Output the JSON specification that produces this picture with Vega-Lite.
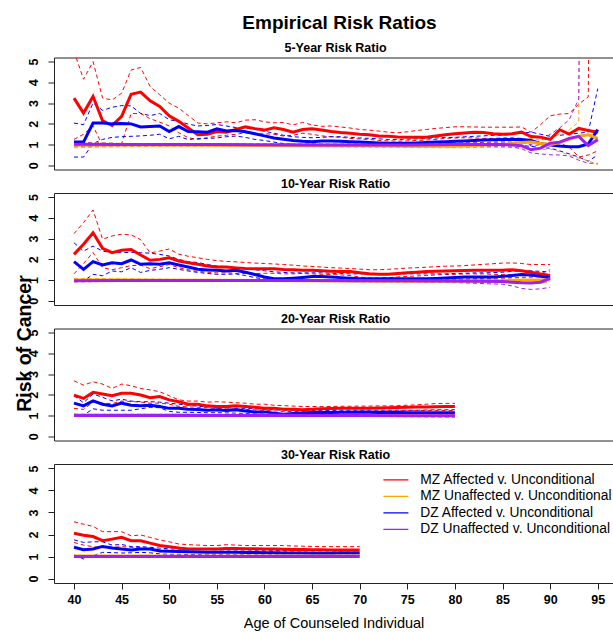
{
  "$schema": "https://vega.github.io/schema/vega-lite/v6.json",
  "padding": {"left": 13, "top": 13.5, "right": 0, "bottom": 0},
  "title": {"text": "Empirical Risk Ratios", "fontSize": 19, "fontWeight": "bold", "anchor": "middle", "frame": "group", "dx": 6, "offset": 8.5, "color": "#000"},
  "data": {"values": [
    {"p":5,"s":"MA","x":40,"e":3.24,"l":1.25,"u":5.5},
    {"p":5,"s":"MA","x":41,"e":2.52,"l":1.5,"u":4.15},
    {"p":5,"s":"MA","x":42,"e":3.32,"l":1.9,"u":5.0},
    {"p":5,"s":"MA","x":43,"e":2.15,"l":0.95,"u":3.25},
    {"p":5,"s":"MA","x":44,"e":1.92,"l":1.0,"u":3.15},
    {"p":5,"s":"MA","x":45,"e":2.36,"l":1.05,"u":3.48},
    {"p":5,"s":"MA","x":46,"e":3.43,"l":2.5,"u":4.6},
    {"p":5,"s":"MA","x":47,"e":3.53,"l":2.5,"u":4.72},
    {"p":5,"s":"MA","x":48,"e":3.11,"l":2.25,"u":3.8},
    {"p":5,"s":"MA","x":49,"e":2.84,"l":2.08,"u":3.4},
    {"p":5,"s":"MA","x":50,"e":2.39,"l":1.9,"u":3.0},
    {"p":5,"s":"MA","x":51,"e":2.12,"l":1.57,"u":2.76},
    {"p":5,"s":"MA","x":52,"e":1.8,"l":1.33,"u":2.4},
    {"p":5,"s":"MA","x":53,"e":1.48,"l":1.25,"u":2.04},
    {"p":5,"s":"MA","x":54,"e":1.5,"l":1.33,"u":2.0},
    {"p":5,"s":"MA","x":55,"e":1.63,"l":1.41,"u":2.05},
    {"p":5,"s":"MA","x":56,"e":1.6,"l":1.45,"u":2.1},
    {"p":5,"s":"MA","x":57,"e":1.73,"l":1.5,"u":2.05},
    {"p":5,"s":"MA","x":58,"e":1.86,"l":1.57,"u":2.18},
    {"p":5,"s":"MA","x":59,"e":1.77,"l":1.5,"u":2.2},
    {"p":5,"s":"MA","x":60,"e":1.7,"l":1.52,"u":2.1},
    {"p":5,"s":"MA","x":61,"e":1.81,"l":1.5,"u":2.05},
    {"p":5,"s":"MA","x":62,"e":1.73,"l":1.41,"u":2.07},
    {"p":5,"s":"MA","x":63,"e":1.6,"l":1.45,"u":1.95},
    {"p":5,"s":"MA","x":64,"e":1.73,"l":1.55,"u":2.07},
    {"p":5,"s":"MA","x":65,"e":1.76,"l":1.5,"u":1.95},
    {"p":5,"s":"MA","x":66,"e":1.7,"l":1.42,"u":1.88},
    {"p":5,"s":"MA","x":67,"e":1.63,"l":1.38,"u":1.9},
    {"p":5,"s":"MA","x":68,"e":1.58,"l":1.35,"u":1.85},
    {"p":5,"s":"MA","x":69,"e":1.55,"l":1.3,"u":1.8},
    {"p":5,"s":"MA","x":70,"e":1.5,"l":1.27,"u":1.73},
    {"p":5,"s":"MA","x":71,"e":1.47,"l":1.25,"u":1.7},
    {"p":5,"s":"MA","x":72,"e":1.42,"l":1.2,"u":1.65},
    {"p":5,"s":"MA","x":73,"e":1.4,"l":1.18,"u":1.6},
    {"p":5,"s":"MA","x":74,"e":1.37,"l":1.17,"u":1.57},
    {"p":5,"s":"MA","x":75,"e":1.36,"l":1.18,"u":1.62},
    {"p":5,"s":"MA","x":76,"e":1.36,"l":1.2,"u":1.68},
    {"p":5,"s":"MA","x":77,"e":1.36,"l":1.22,"u":1.73},
    {"p":5,"s":"MA","x":78,"e":1.42,"l":1.25,"u":1.78},
    {"p":5,"s":"MA","x":79,"e":1.48,"l":1.3,"u":1.82},
    {"p":5,"s":"MA","x":80,"e":1.52,"l":1.32,"u":1.86},
    {"p":5,"s":"MA","x":81,"e":1.56,"l":1.33,"u":1.86},
    {"p":5,"s":"MA","x":82,"e":1.6,"l":1.32,"u":1.85},
    {"p":5,"s":"MA","x":83,"e":1.58,"l":1.3,"u":1.84},
    {"p":5,"s":"MA","x":84,"e":1.52,"l":1.3,"u":1.84},
    {"p":5,"s":"MA","x":85,"e":1.5,"l":1.32,"u":1.84},
    {"p":5,"s":"MA","x":86,"e":1.52,"l":1.33,"u":1.84},
    {"p":5,"s":"MA","x":87,"e":1.6,"l":1.3,"u":1.85},
    {"p":5,"s":"MA","x":88,"e":1.39,"l":0.93,"u":1.6},
    {"p":5,"s":"MA","x":89,"e":1.36,"l":1.0,"u":1.96},
    {"p":5,"s":"MA","x":90,"e":1.25,"l":1.09,"u":2.39},
    {"p":5,"s":"MA","x":91,"e":1.72,"l":1.05,"u":2.47},
    {"p":5,"s":"MA","x":92,"e":1.51,"l":0.9,"u":2.5},
    {"p":5,"s":"MA","x":93,"e":1.78,"l":0.4,"u":2.95},
    {"p":5,"s":"MA","x":94,"e":1.68,"l":0.5,"u":3.3},
    {"p":5,"s":"MA","x":95,"e":1.6,"l":0.7,"u":60},
    {"p":5,"s":"DA","x":40,"e":1.12,"l":0.4,"u":2.04},
    {"p":5,"s":"DA","x":41,"e":1.12,"l":0.4,"u":1.96},
    {"p":5,"s":"DA","x":42,"e":2.04,"l":1.05,"u":3.0},
    {"p":5,"s":"DA","x":43,"e":2.04,"l":1.25,"u":2.65},
    {"p":5,"s":"DA","x":44,"e":2.0,"l":1.35,"u":2.8},
    {"p":5,"s":"DA","x":45,"e":2.02,"l":1.38,"u":2.88},
    {"p":5,"s":"DA","x":46,"e":2.0,"l":1.4,"u":2.87},
    {"p":5,"s":"DA","x":47,"e":1.85,"l":1.42,"u":2.5},
    {"p":5,"s":"DA","x":48,"e":1.87,"l":1.45,"u":2.4},
    {"p":5,"s":"DA","x":49,"e":1.9,"l":1.5,"u":2.5},
    {"p":5,"s":"DA","x":50,"e":1.63,"l":1.28,"u":2.2},
    {"p":5,"s":"DA","x":51,"e":1.87,"l":1.4,"u":2.12},
    {"p":5,"s":"DA","x":52,"e":1.63,"l":1.24,"u":1.99},
    {"p":5,"s":"DA","x":53,"e":1.62,"l":1.3,"u":1.9},
    {"p":5,"s":"DA","x":54,"e":1.6,"l":1.3,"u":1.92},
    {"p":5,"s":"DA","x":55,"e":1.76,"l":1.32,"u":1.97},
    {"p":5,"s":"DA","x":56,"e":1.66,"l":1.38,"u":1.9},
    {"p":5,"s":"DA","x":57,"e":1.68,"l":1.41,"u":1.82},
    {"p":5,"s":"DA","x":58,"e":1.62,"l":1.35,"u":1.8},
    {"p":5,"s":"DA","x":59,"e":1.52,"l":1.25,"u":1.73},
    {"p":5,"s":"DA","x":60,"e":1.42,"l":1.2,"u":1.65},
    {"p":5,"s":"DA","x":61,"e":1.32,"l":1.12,"u":1.55},
    {"p":5,"s":"DA","x":62,"e":1.26,"l":1.05,"u":1.45},
    {"p":5,"s":"DA","x":63,"e":1.2,"l":1.02,"u":1.38},
    {"p":5,"s":"DA","x":64,"e":1.16,"l":1.0,"u":1.35},
    {"p":5,"s":"DA","x":65,"e":1.14,"l":0.98,"u":1.33},
    {"p":5,"s":"DA","x":66,"e":1.17,"l":0.98,"u":1.35},
    {"p":5,"s":"DA","x":67,"e":1.17,"l":1.0,"u":1.38},
    {"p":5,"s":"DA","x":68,"e":1.16,"l":1.0,"u":1.38},
    {"p":5,"s":"DA","x":69,"e":1.14,"l":1.0,"u":1.35},
    {"p":5,"s":"DA","x":70,"e":1.12,"l":0.98,"u":1.32},
    {"p":5,"s":"DA","x":71,"e":1.1,"l":0.97,"u":1.3},
    {"p":5,"s":"DA","x":72,"e":1.08,"l":0.95,"u":1.28},
    {"p":5,"s":"DA","x":73,"e":1.06,"l":0.95,"u":1.25},
    {"p":5,"s":"DA","x":74,"e":1.06,"l":0.95,"u":1.25},
    {"p":5,"s":"DA","x":75,"e":1.06,"l":0.95,"u":1.26},
    {"p":5,"s":"DA","x":76,"e":1.08,"l":0.96,"u":1.28},
    {"p":5,"s":"DA","x":77,"e":1.1,"l":0.97,"u":1.3},
    {"p":5,"s":"DA","x":78,"e":1.12,"l":0.98,"u":1.32},
    {"p":5,"s":"DA","x":79,"e":1.14,"l":1.0,"u":1.34},
    {"p":5,"s":"DA","x":80,"e":1.16,"l":1.0,"u":1.35},
    {"p":5,"s":"DA","x":81,"e":1.18,"l":1.0,"u":1.38},
    {"p":5,"s":"DA","x":82,"e":1.2,"l":1.0,"u":1.4},
    {"p":5,"s":"DA","x":83,"e":1.22,"l":1.02,"u":1.42},
    {"p":5,"s":"DA","x":84,"e":1.24,"l":1.02,"u":1.45},
    {"p":5,"s":"DA","x":85,"e":1.25,"l":1.0,"u":1.45},
    {"p":5,"s":"DA","x":86,"e":1.25,"l":1.0,"u":1.5},
    {"p":5,"s":"DA","x":87,"e":1.25,"l":0.95,"u":1.55},
    {"p":5,"s":"DA","x":88,"e":1.2,"l":0.92,"u":1.6},
    {"p":5,"s":"DA","x":89,"e":1.05,"l":0.85,"u":1.5},
    {"p":5,"s":"DA","x":90,"e":0.98,"l":0.83,"u":1.4},
    {"p":5,"s":"DA","x":91,"e":0.93,"l":0.7,"u":1.45},
    {"p":5,"s":"DA","x":92,"e":0.9,"l":0.55,"u":1.5},
    {"p":5,"s":"DA","x":93,"e":0.9,"l":0.4,"u":1.55},
    {"p":5,"s":"DA","x":94,"e":1.03,"l":0.2,"u":1.6},
    {"p":5,"s":"DA","x":95,"e":1.72,"l":0.5,"u":3.7},
    {"p":5,"s":"MU","x":40,"e":0.97,"l":0.85,"u":1.12},
    {"p":5,"s":"MU","x":45,"e":0.98,"l":0.9,"u":1.06},
    {"p":5,"s":"MU","x":50,"e":0.98,"l":0.92,"u":1.04},
    {"p":5,"s":"MU","x":55,"e":0.97,"l":0.92,"u":1.02},
    {"p":5,"s":"MU","x":60,"e":0.96,"l":0.92,"u":1.0},
    {"p":5,"s":"MU","x":65,"e":0.95,"l":0.9,"u":0.99},
    {"p":5,"s":"MU","x":70,"e":0.94,"l":0.88,"u":0.99},
    {"p":5,"s":"MU","x":75,"e":0.92,"l":0.86,"u":0.98},
    {"p":5,"s":"MU","x":80,"e":0.92,"l":0.85,"u":0.99},
    {"p":5,"s":"MU","x":85,"e":1.0,"l":0.88,"u":1.15},
    {"p":5,"s":"MU","x":86,"e":1.05,"l":0.88,"u":1.2},
    {"p":5,"s":"MU","x":87,"e":1.1,"l":0.85,"u":1.25},
    {"p":5,"s":"MU","x":88,"e":1.12,"l":0.8,"u":1.3},
    {"p":5,"s":"MU","x":89,"e":1.05,"l":0.75,"u":1.2},
    {"p":5,"s":"MU","x":90,"e":1.0,"l":0.79,"u":1.3},
    {"p":5,"s":"MU","x":91,"e":1.1,"l":0.65,"u":1.5},
    {"p":5,"s":"MU","x":92,"e":1.25,"l":0.51,"u":1.7},
    {"p":5,"s":"MU","x":93,"e":1.4,"l":0.35,"u":2.1},
    {"p":5,"s":"MU","x":94,"e":1.47,"l":0.22,"u":60},
    {"p":5,"s":"MU","x":95,"e":1.3,"l":0.03,"u":60},
    {"p":5,"s":"DU","x":40,"e":1.02,"l":0.92,"u":1.1},
    {"p":5,"s":"DU","x":45,"e":1.0,"l":0.95,"u":1.05},
    {"p":5,"s":"DU","x":50,"e":1.0,"l":0.96,"u":1.04},
    {"p":5,"s":"DU","x":55,"e":1.0,"l":0.96,"u":1.03},
    {"p":5,"s":"DU","x":60,"e":0.99,"l":0.95,"u":1.03},
    {"p":5,"s":"DU","x":65,"e":0.98,"l":0.94,"u":1.03},
    {"p":5,"s":"DU","x":70,"e":0.98,"l":0.93,"u":1.02},
    {"p":5,"s":"DU","x":75,"e":0.98,"l":0.93,"u":1.03},
    {"p":5,"s":"DU","x":80,"e":1.0,"l":0.92,"u":1.08},
    {"p":5,"s":"DU","x":85,"e":1.0,"l":0.9,"u":1.12},
    {"p":5,"s":"DU","x":86,"e":0.98,"l":0.88,"u":1.12},
    {"p":5,"s":"DU","x":87,"e":0.95,"l":0.8,"u":1.1},
    {"p":5,"s":"DU","x":88,"e":0.75,"l":0.6,"u":1.0},
    {"p":5,"s":"DU","x":89,"e":0.83,"l":0.55,"u":1.2},
    {"p":5,"s":"DU","x":90,"e":1.07,"l":0.51,"u":1.5},
    {"p":5,"s":"DU","x":91,"e":1.12,"l":0.5,"u":1.8},
    {"p":5,"s":"DU","x":92,"e":1.3,"l":0.45,"u":2.2},
    {"p":5,"s":"DU","x":93,"e":1.4,"l":0.25,"u":3.2},
    {"p":5,"s":"DU","x":94,"e":0.95,"l":0.1,"u":60},
    {"p":5,"s":"DU","x":95,"e":1.24,"l":0.1,"u":60},

    {"p":10,"s":"MA","x":40,"e":2.24,"l":1.3,"u":3.24},
    {"p":10,"s":"MA","x":41,"e":2.73,"l":1.8,"u":3.77},
    {"p":10,"s":"MA","x":42,"e":3.28,"l":2.33,"u":4.38},
    {"p":10,"s":"MA","x":43,"e":2.53,"l":1.6,"u":2.97},
    {"p":10,"s":"MA","x":44,"e":2.32,"l":1.5,"u":3.13},
    {"p":10,"s":"MA","x":45,"e":2.44,"l":1.6,"u":3.21},
    {"p":10,"s":"MA","x":46,"e":2.48,"l":1.7,"u":3.18},
    {"p":10,"s":"MA","x":47,"e":2.21,"l":1.72,"u":2.95},
    {"p":10,"s":"MA","x":48,"e":1.96,"l":1.55,"u":2.31},
    {"p":10,"s":"MA","x":49,"e":2.0,"l":1.65,"u":2.4},
    {"p":10,"s":"MA","x":50,"e":2.08,"l":1.75,"u":2.5},
    {"p":10,"s":"MA","x":51,"e":1.92,"l":1.6,"u":2.25},
    {"p":10,"s":"MA","x":52,"e":1.84,"l":1.5,"u":2.15},
    {"p":10,"s":"MA","x":53,"e":1.76,"l":1.42,"u":2.08},
    {"p":10,"s":"MA","x":54,"e":1.68,"l":1.38,"u":2.0},
    {"p":10,"s":"MA","x":55,"e":1.63,"l":1.35,"u":1.94},
    {"p":10,"s":"MA","x":56,"e":1.63,"l":1.35,"u":1.9},
    {"p":10,"s":"MA","x":57,"e":1.59,"l":1.33,"u":1.88},
    {"p":10,"s":"MA","x":58,"e":1.56,"l":1.32,"u":1.85},
    {"p":10,"s":"MA","x":59,"e":1.55,"l":1.32,"u":1.82},
    {"p":10,"s":"MA","x":60,"e":1.55,"l":1.33,"u":1.8},
    {"p":10,"s":"MA","x":61,"e":1.55,"l":1.33,"u":1.78},
    {"p":10,"s":"MA","x":62,"e":1.51,"l":1.3,"u":1.75},
    {"p":10,"s":"MA","x":63,"e":1.5,"l":1.3,"u":1.72},
    {"p":10,"s":"MA","x":64,"e":1.48,"l":1.32,"u":1.68},
    {"p":10,"s":"MA","x":65,"e":1.47,"l":1.3,"u":1.66},
    {"p":10,"s":"MA","x":66,"e":1.45,"l":1.28,"u":1.63},
    {"p":10,"s":"MA","x":67,"e":1.43,"l":1.27,"u":1.6},
    {"p":10,"s":"MA","x":68,"e":1.42,"l":1.25,"u":1.58},
    {"p":10,"s":"MA","x":69,"e":1.41,"l":1.22,"u":1.56},
    {"p":10,"s":"MA","x":70,"e":1.36,"l":1.15,"u":1.53},
    {"p":10,"s":"MA","x":71,"e":1.31,"l":1.1,"u":1.5},
    {"p":10,"s":"MA","x":72,"e":1.28,"l":1.1,"u":1.5},
    {"p":10,"s":"MA","x":73,"e":1.28,"l":1.12,"u":1.52},
    {"p":10,"s":"MA","x":74,"e":1.32,"l":1.15,"u":1.55},
    {"p":10,"s":"MA","x":75,"e":1.36,"l":1.18,"u":1.58},
    {"p":10,"s":"MA","x":76,"e":1.38,"l":1.2,"u":1.6},
    {"p":10,"s":"MA","x":77,"e":1.41,"l":1.22,"u":1.62},
    {"p":10,"s":"MA","x":78,"e":1.43,"l":1.25,"u":1.65},
    {"p":10,"s":"MA","x":79,"e":1.44,"l":1.27,"u":1.67},
    {"p":10,"s":"MA","x":80,"e":1.45,"l":1.28,"u":1.68},
    {"p":10,"s":"MA","x":81,"e":1.46,"l":1.3,"u":1.7},
    {"p":10,"s":"MA","x":82,"e":1.47,"l":1.3,"u":1.73},
    {"p":10,"s":"MA","x":83,"e":1.47,"l":1.3,"u":1.76},
    {"p":10,"s":"MA","x":84,"e":1.47,"l":1.28,"u":1.79},
    {"p":10,"s":"MA","x":85,"e":1.48,"l":1.27,"u":1.82},
    {"p":10,"s":"MA","x":86,"e":1.5,"l":1.25,"u":1.83},
    {"p":10,"s":"MA","x":87,"e":1.45,"l":1.22,"u":1.8},
    {"p":10,"s":"MA","x":88,"e":1.38,"l":1.2,"u":1.75},
    {"p":10,"s":"MA","x":89,"e":1.3,"l":1.15,"u":1.75},
    {"p":10,"s":"MA","x":90,"e":1.22,"l":1.1,"u":1.75},
    {"p":10,"s":"DA","x":40,"e":1.89,"l":1.04,"u":2.8},
    {"p":10,"s":"DA","x":41,"e":1.52,"l":0.95,"u":2.4},
    {"p":10,"s":"DA","x":42,"e":1.89,"l":1.28,"u":2.64},
    {"p":10,"s":"DA","x":43,"e":1.73,"l":1.21,"u":2.4},
    {"p":10,"s":"DA","x":44,"e":1.84,"l":1.44,"u":2.32},
    {"p":10,"s":"DA","x":45,"e":1.79,"l":1.4,"u":2.32},
    {"p":10,"s":"DA","x":46,"e":1.97,"l":1.6,"u":2.34},
    {"p":10,"s":"DA","x":47,"e":1.76,"l":1.37,"u":2.32},
    {"p":10,"s":"DA","x":48,"e":1.79,"l":1.47,"u":2.3},
    {"p":10,"s":"DA","x":49,"e":1.76,"l":1.52,"u":2.24},
    {"p":10,"s":"DA","x":50,"e":1.84,"l":1.6,"u":2.16},
    {"p":10,"s":"DA","x":51,"e":1.73,"l":1.52,"u":2.0},
    {"p":10,"s":"DA","x":52,"e":1.63,"l":1.44,"u":1.89},
    {"p":10,"s":"DA","x":53,"e":1.52,"l":1.37,"u":1.85},
    {"p":10,"s":"DA","x":54,"e":1.49,"l":1.32,"u":1.75},
    {"p":10,"s":"DA","x":55,"e":1.47,"l":1.28,"u":1.68},
    {"p":10,"s":"DA","x":56,"e":1.44,"l":1.28,"u":1.65},
    {"p":10,"s":"DA","x":57,"e":1.47,"l":1.3,"u":1.6},
    {"p":10,"s":"DA","x":58,"e":1.38,"l":1.22,"u":1.55},
    {"p":10,"s":"DA","x":59,"e":1.27,"l":1.12,"u":1.5},
    {"p":10,"s":"DA","x":60,"e":1.15,"l":1.05,"u":1.45},
    {"p":10,"s":"DA","x":61,"e":1.07,"l":0.98,"u":1.4},
    {"p":10,"s":"DA","x":62,"e":1.06,"l":0.97,"u":1.37},
    {"p":10,"s":"DA","x":63,"e":1.09,"l":0.98,"u":1.35},
    {"p":10,"s":"DA","x":64,"e":1.13,"l":1.0,"u":1.35},
    {"p":10,"s":"DA","x":65,"e":1.17,"l":1.02,"u":1.35},
    {"p":10,"s":"DA","x":66,"e":1.17,"l":1.03,"u":1.35},
    {"p":10,"s":"DA","x":67,"e":1.15,"l":1.02,"u":1.33},
    {"p":10,"s":"DA","x":68,"e":1.12,"l":1.0,"u":1.32},
    {"p":10,"s":"DA","x":69,"e":1.09,"l":0.98,"u":1.3},
    {"p":10,"s":"DA","x":70,"e":1.06,"l":0.97,"u":1.3},
    {"p":10,"s":"DA","x":71,"e":1.06,"l":0.97,"u":1.3},
    {"p":10,"s":"DA","x":72,"e":1.06,"l":0.97,"u":1.3},
    {"p":10,"s":"DA","x":73,"e":1.06,"l":0.97,"u":1.3},
    {"p":10,"s":"DA","x":74,"e":1.06,"l":0.97,"u":1.3},
    {"p":10,"s":"DA","x":75,"e":1.07,"l":0.97,"u":1.3},
    {"p":10,"s":"DA","x":76,"e":1.07,"l":0.97,"u":1.3},
    {"p":10,"s":"DA","x":77,"e":1.07,"l":0.97,"u":1.3},
    {"p":10,"s":"DA","x":78,"e":1.08,"l":0.98,"u":1.3},
    {"p":10,"s":"DA","x":79,"e":1.1,"l":0.99,"u":1.3},
    {"p":10,"s":"DA","x":80,"e":1.12,"l":1.0,"u":1.32},
    {"p":10,"s":"DA","x":81,"e":1.15,"l":1.01,"u":1.33},
    {"p":10,"s":"DA","x":82,"e":1.15,"l":1.01,"u":1.35},
    {"p":10,"s":"DA","x":83,"e":1.15,"l":1.0,"u":1.35},
    {"p":10,"s":"DA","x":84,"e":1.15,"l":1.0,"u":1.36},
    {"p":10,"s":"DA","x":85,"e":1.18,"l":1.0,"u":1.38},
    {"p":10,"s":"DA","x":86,"e":1.22,"l":1.0,"u":1.42},
    {"p":10,"s":"DA","x":87,"e":1.27,"l":1.0,"u":1.45},
    {"p":10,"s":"DA","x":88,"e":1.25,"l":0.98,"u":1.45},
    {"p":10,"s":"DA","x":89,"e":1.18,"l":0.97,"u":1.42},
    {"p":10,"s":"DA","x":90,"e":1.12,"l":0.95,"u":1.4},
    {"p":10,"s":"MU","x":40,"e":1.0,"l":0.92,"u":1.08},
    {"p":10,"s":"MU","x":45,"e":1.0,"l":0.94,"u":1.06},
    {"p":10,"s":"MU","x":50,"e":0.99,"l":0.95,"u":1.04},
    {"p":10,"s":"MU","x":55,"e":0.99,"l":0.95,"u":1.03},
    {"p":10,"s":"MU","x":60,"e":0.98,"l":0.94,"u":1.02},
    {"p":10,"s":"MU","x":65,"e":0.97,"l":0.93,"u":1.01},
    {"p":10,"s":"MU","x":70,"e":0.96,"l":0.92,"u":1.0},
    {"p":10,"s":"MU","x":75,"e":0.95,"l":0.9,"u":1.0},
    {"p":10,"s":"MU","x":80,"e":0.95,"l":0.89,"u":1.02},
    {"p":10,"s":"MU","x":85,"e":0.97,"l":0.88,"u":1.08},
    {"p":10,"s":"MU","x":88,"e":1.0,"l":0.85,"u":1.12},
    {"p":10,"s":"MU","x":90,"e":1.02,"l":0.9,"u":1.2},
    {"p":10,"s":"DU","x":40,"e":0.97,"l":0.92,"u":1.02},
    {"p":10,"s":"DU","x":45,"e":0.98,"l":0.94,"u":1.02},
    {"p":10,"s":"DU","x":50,"e":0.98,"l":0.95,"u":1.01},
    {"p":10,"s":"DU","x":55,"e":0.98,"l":0.95,"u":1.01},
    {"p":10,"s":"DU","x":60,"e":0.98,"l":0.95,"u":1.01},
    {"p":10,"s":"DU","x":65,"e":0.98,"l":0.94,"u":1.01},
    {"p":10,"s":"DU","x":70,"e":0.97,"l":0.93,"u":1.01},
    {"p":10,"s":"DU","x":75,"e":0.97,"l":0.92,"u":1.02},
    {"p":10,"s":"DU","x":80,"e":0.96,"l":0.88,"u":1.05},
    {"p":10,"s":"DU","x":85,"e":0.93,"l":0.8,"u":1.1},
    {"p":10,"s":"DU","x":86,"e":0.9,"l":0.72,"u":1.12},
    {"p":10,"s":"DU","x":87,"e":0.87,"l":0.6,"u":1.13},
    {"p":10,"s":"DU","x":88,"e":0.86,"l":0.55,"u":1.15},
    {"p":10,"s":"DU","x":89,"e":0.9,"l":0.58,"u":1.3},
    {"p":10,"s":"DU","x":90,"e":1.1,"l":0.65,"u":1.5},

    {"p":20,"s":"MA","x":40,"e":1.99,"l":1.35,"u":2.68},
    {"p":20,"s":"MA","x":41,"e":1.83,"l":1.3,"u":2.47},
    {"p":20,"s":"MA","x":42,"e":2.12,"l":1.65,"u":2.63},
    {"p":20,"s":"MA","x":43,"e":2.04,"l":1.6,"u":2.52},
    {"p":20,"s":"MA","x":44,"e":1.96,"l":1.58,"u":2.31},
    {"p":20,"s":"MA","x":45,"e":2.08,"l":1.7,"u":2.52},
    {"p":20,"s":"MA","x":46,"e":2.08,"l":1.68,"u":2.44},
    {"p":20,"s":"MA","x":47,"e":1.99,"l":1.65,"u":2.31},
    {"p":20,"s":"MA","x":48,"e":1.86,"l":1.6,"u":2.24},
    {"p":20,"s":"MA","x":49,"e":1.92,"l":1.6,"u":2.15},
    {"p":20,"s":"MA","x":50,"e":1.76,"l":1.55,"u":1.96},
    {"p":20,"s":"MA","x":51,"e":1.67,"l":1.45,"u":1.76},
    {"p":20,"s":"MA","x":52,"e":1.55,"l":1.42,"u":1.7},
    {"p":20,"s":"MA","x":53,"e":1.55,"l":1.4,"u":1.7},
    {"p":20,"s":"MA","x":54,"e":1.47,"l":1.38,"u":1.65},
    {"p":20,"s":"MA","x":55,"e":1.44,"l":1.35,"u":1.67},
    {"p":20,"s":"MA","x":56,"e":1.44,"l":1.33,"u":1.65},
    {"p":20,"s":"MA","x":57,"e":1.47,"l":1.32,"u":1.62},
    {"p":20,"s":"MA","x":58,"e":1.44,"l":1.3,"u":1.6},
    {"p":20,"s":"MA","x":59,"e":1.4,"l":1.28,"u":1.55},
    {"p":20,"s":"MA","x":60,"e":1.35,"l":1.25,"u":1.55},
    {"p":20,"s":"MA","x":61,"e":1.35,"l":1.23,"u":1.5},
    {"p":20,"s":"MA","x":62,"e":1.31,"l":1.2,"u":1.48},
    {"p":20,"s":"MA","x":63,"e":1.31,"l":1.2,"u":1.46},
    {"p":20,"s":"MA","x":64,"e":1.28,"l":1.19,"u":1.44},
    {"p":20,"s":"MA","x":65,"e":1.31,"l":1.18,"u":1.44},
    {"p":20,"s":"MA","x":66,"e":1.33,"l":1.2,"u":1.44},
    {"p":20,"s":"MA","x":67,"e":1.34,"l":1.2,"u":1.44},
    {"p":20,"s":"MA","x":68,"e":1.35,"l":1.2,"u":1.45},
    {"p":20,"s":"MA","x":69,"e":1.35,"l":1.21,"u":1.45},
    {"p":20,"s":"MA","x":70,"e":1.36,"l":1.22,"u":1.46},
    {"p":20,"s":"MA","x":71,"e":1.36,"l":1.22,"u":1.46},
    {"p":20,"s":"MA","x":72,"e":1.37,"l":1.22,"u":1.47},
    {"p":20,"s":"MA","x":73,"e":1.38,"l":1.23,"u":1.47},
    {"p":20,"s":"MA","x":74,"e":1.39,"l":1.23,"u":1.48},
    {"p":20,"s":"MA","x":75,"e":1.4,"l":1.24,"u":1.5},
    {"p":20,"s":"MA","x":76,"e":1.41,"l":1.24,"u":1.52},
    {"p":20,"s":"MA","x":77,"e":1.42,"l":1.25,"u":1.55},
    {"p":20,"s":"MA","x":78,"e":1.43,"l":1.25,"u":1.58},
    {"p":20,"s":"MA","x":79,"e":1.44,"l":1.25,"u":1.59},
    {"p":20,"s":"MA","x":80,"e":1.44,"l":1.25,"u":1.59},
    {"p":20,"s":"DA","x":40,"e":1.6,"l":1.07,"u":1.96},
    {"p":20,"s":"DA","x":41,"e":1.47,"l":1.02,"u":1.62},
    {"p":20,"s":"DA","x":42,"e":1.71,"l":1.33,"u":2.04},
    {"p":20,"s":"DA","x":43,"e":1.55,"l":1.26,"u":1.88},
    {"p":20,"s":"DA","x":44,"e":1.47,"l":1.26,"u":1.71},
    {"p":20,"s":"DA","x":45,"e":1.6,"l":1.26,"u":1.79},
    {"p":20,"s":"DA","x":46,"e":1.5,"l":1.26,"u":1.7},
    {"p":20,"s":"DA","x":47,"e":1.47,"l":1.33,"u":1.67},
    {"p":20,"s":"DA","x":48,"e":1.5,"l":1.4,"u":1.67},
    {"p":20,"s":"DA","x":49,"e":1.44,"l":1.38,"u":1.65},
    {"p":20,"s":"DA","x":50,"e":1.35,"l":1.2,"u":1.6},
    {"p":20,"s":"DA","x":51,"e":1.35,"l":1.16,"u":1.55},
    {"p":20,"s":"DA","x":52,"e":1.31,"l":1.16,"u":1.5},
    {"p":20,"s":"DA","x":53,"e":1.29,"l":1.15,"u":1.45},
    {"p":20,"s":"DA","x":54,"e":1.26,"l":1.14,"u":1.42},
    {"p":20,"s":"DA","x":55,"e":1.28,"l":1.14,"u":1.4},
    {"p":20,"s":"DA","x":56,"e":1.25,"l":1.13,"u":1.38},
    {"p":20,"s":"DA","x":57,"e":1.28,"l":1.12,"u":1.36},
    {"p":20,"s":"DA","x":58,"e":1.22,"l":1.1,"u":1.35},
    {"p":20,"s":"DA","x":59,"e":1.18,"l":1.08,"u":1.33},
    {"p":20,"s":"DA","x":60,"e":1.18,"l":1.07,"u":1.3},
    {"p":20,"s":"DA","x":61,"e":1.12,"l":1.05,"u":1.28},
    {"p":20,"s":"DA","x":62,"e":1.07,"l":1.02,"u":1.27},
    {"p":20,"s":"DA","x":63,"e":1.1,"l":1.02,"u":1.26},
    {"p":20,"s":"DA","x":64,"e":1.12,"l":1.03,"u":1.25},
    {"p":20,"s":"DA","x":65,"e":1.15,"l":1.04,"u":1.25},
    {"p":20,"s":"DA","x":66,"e":1.15,"l":1.05,"u":1.25},
    {"p":20,"s":"DA","x":67,"e":1.15,"l":1.05,"u":1.25},
    {"p":20,"s":"DA","x":68,"e":1.16,"l":1.05,"u":1.26},
    {"p":20,"s":"DA","x":69,"e":1.16,"l":1.05,"u":1.26},
    {"p":20,"s":"DA","x":70,"e":1.16,"l":1.05,"u":1.26},
    {"p":20,"s":"DA","x":71,"e":1.16,"l":1.05,"u":1.26},
    {"p":20,"s":"DA","x":72,"e":1.15,"l":1.05,"u":1.26},
    {"p":20,"s":"DA","x":73,"e":1.15,"l":1.05,"u":1.26},
    {"p":20,"s":"DA","x":74,"e":1.15,"l":1.04,"u":1.26},
    {"p":20,"s":"DA","x":75,"e":1.14,"l":1.04,"u":1.26},
    {"p":20,"s":"DA","x":76,"e":1.14,"l":1.04,"u":1.26},
    {"p":20,"s":"DA","x":77,"e":1.14,"l":1.04,"u":1.27},
    {"p":20,"s":"DA","x":78,"e":1.14,"l":1.03,"u":1.28},
    {"p":20,"s":"DA","x":79,"e":1.14,"l":1.03,"u":1.28},
    {"p":20,"s":"DA","x":80,"e":1.14,"l":1.03,"u":1.28},
    {"p":20,"s":"MU","x":40,"e":1.03,"l":0.99,"u":1.07},
    {"p":20,"s":"MU","x":45,"e":1.03,"l":0.99,"u":1.07},
    {"p":20,"s":"MU","x":50,"e":1.03,"l":0.99,"u":1.07},
    {"p":20,"s":"MU","x":55,"e":1.02,"l":0.98,"u":1.06},
    {"p":20,"s":"MU","x":60,"e":1.02,"l":0.98,"u":1.06},
    {"p":20,"s":"MU","x":65,"e":1.01,"l":0.97,"u":1.05},
    {"p":20,"s":"MU","x":70,"e":1.01,"l":0.97,"u":1.05},
    {"p":20,"s":"MU","x":75,"e":1.0,"l":0.96,"u":1.05},
    {"p":20,"s":"MU","x":80,"e":1.0,"l":0.95,"u":1.06},
    {"p":20,"s":"DU","x":40,"e":1.0,"l":0.97,"u":1.03},
    {"p":20,"s":"DU","x":45,"e":1.0,"l":0.97,"u":1.03},
    {"p":20,"s":"DU","x":50,"e":1.0,"l":0.97,"u":1.03},
    {"p":20,"s":"DU","x":55,"e":1.0,"l":0.97,"u":1.03},
    {"p":20,"s":"DU","x":60,"e":1.0,"l":0.97,"u":1.03},
    {"p":20,"s":"DU","x":65,"e":1.0,"l":0.96,"u":1.03},
    {"p":20,"s":"DU","x":70,"e":1.0,"l":0.96,"u":1.03},
    {"p":20,"s":"DU","x":75,"e":0.99,"l":0.95,"u":1.03},
    {"p":20,"s":"DU","x":80,"e":0.99,"l":0.93,"u":1.04},

    {"p":30,"s":"MA","x":40,"e":2.06,"l":1.64,"u":2.58},
    {"p":30,"s":"MA","x":41,"e":1.97,"l":1.52,"u":2.47},
    {"p":30,"s":"MA","x":42,"e":1.91,"l":1.45,"u":2.37},
    {"p":30,"s":"MA","x":43,"e":1.72,"l":1.4,"u":2.13},
    {"p":30,"s":"MA","x":44,"e":1.79,"l":1.42,"u":2.13},
    {"p":30,"s":"MA","x":45,"e":1.87,"l":1.45,"u":2.13},
    {"p":30,"s":"MA","x":46,"e":1.72,"l":1.42,"u":1.94},
    {"p":30,"s":"MA","x":47,"e":1.72,"l":1.4,"u":1.98},
    {"p":30,"s":"MA","x":48,"e":1.61,"l":1.35,"u":1.87},
    {"p":30,"s":"MA","x":49,"e":1.5,"l":1.3,"u":1.75},
    {"p":30,"s":"MA","x":50,"e":1.45,"l":1.28,"u":1.67},
    {"p":30,"s":"MA","x":51,"e":1.39,"l":1.25,"u":1.57},
    {"p":30,"s":"MA","x":52,"e":1.34,"l":1.23,"u":1.54},
    {"p":30,"s":"MA","x":53,"e":1.34,"l":1.22,"u":1.52},
    {"p":30,"s":"MA","x":54,"e":1.34,"l":1.21,"u":1.5},
    {"p":30,"s":"MA","x":55,"e":1.34,"l":1.21,"u":1.5},
    {"p":30,"s":"MA","x":56,"e":1.37,"l":1.22,"u":1.54},
    {"p":30,"s":"MA","x":57,"e":1.36,"l":1.22,"u":1.52},
    {"p":30,"s":"MA","x":58,"e":1.35,"l":1.22,"u":1.5},
    {"p":30,"s":"MA","x":59,"e":1.35,"l":1.22,"u":1.5},
    {"p":30,"s":"MA","x":60,"e":1.34,"l":1.22,"u":1.5},
    {"p":30,"s":"MA","x":61,"e":1.34,"l":1.21,"u":1.5},
    {"p":30,"s":"MA","x":62,"e":1.33,"l":1.21,"u":1.5},
    {"p":30,"s":"MA","x":63,"e":1.32,"l":1.2,"u":1.48},
    {"p":30,"s":"MA","x":64,"e":1.32,"l":1.2,"u":1.47},
    {"p":30,"s":"MA","x":65,"e":1.31,"l":1.2,"u":1.46},
    {"p":30,"s":"MA","x":66,"e":1.31,"l":1.2,"u":1.45},
    {"p":30,"s":"MA","x":67,"e":1.3,"l":1.2,"u":1.45},
    {"p":30,"s":"MA","x":68,"e":1.3,"l":1.2,"u":1.45},
    {"p":30,"s":"MA","x":69,"e":1.3,"l":1.19,"u":1.45},
    {"p":30,"s":"MA","x":70,"e":1.3,"l":1.19,"u":1.45},
    {"p":30,"s":"DA","x":40,"e":1.42,"l":1.07,"u":1.76},
    {"p":30,"s":"DA","x":41,"e":1.31,"l":0.89,"u":1.64},
    {"p":30,"s":"DA","x":42,"e":1.34,"l":1.04,"u":1.67},
    {"p":30,"s":"DA","x":43,"e":1.46,"l":1.19,"u":1.67},
    {"p":30,"s":"DA","x":44,"e":1.39,"l":1.18,"u":1.52},
    {"p":30,"s":"DA","x":45,"e":1.34,"l":1.16,"u":1.55},
    {"p":30,"s":"DA","x":46,"e":1.3,"l":1.17,"u":1.45},
    {"p":30,"s":"DA","x":47,"e":1.34,"l":1.19,"u":1.45},
    {"p":30,"s":"DA","x":48,"e":1.34,"l":1.17,"u":1.42},
    {"p":30,"s":"DA","x":49,"e":1.25,"l":1.12,"u":1.38},
    {"p":30,"s":"DA","x":50,"e":1.24,"l":1.1,"u":1.35},
    {"p":30,"s":"DA","x":51,"e":1.23,"l":1.1,"u":1.34},
    {"p":30,"s":"DA","x":52,"e":1.22,"l":1.09,"u":1.33},
    {"p":30,"s":"DA","x":53,"e":1.21,"l":1.09,"u":1.32},
    {"p":30,"s":"DA","x":54,"e":1.2,"l":1.08,"u":1.32},
    {"p":30,"s":"DA","x":55,"e":1.2,"l":1.08,"u":1.31},
    {"p":30,"s":"DA","x":56,"e":1.19,"l":1.08,"u":1.3},
    {"p":30,"s":"DA","x":57,"e":1.19,"l":1.08,"u":1.3},
    {"p":30,"s":"DA","x":58,"e":1.18,"l":1.07,"u":1.3},
    {"p":30,"s":"DA","x":59,"e":1.18,"l":1.07,"u":1.29},
    {"p":30,"s":"DA","x":60,"e":1.17,"l":1.07,"u":1.29},
    {"p":30,"s":"DA","x":61,"e":1.17,"l":1.07,"u":1.28},
    {"p":30,"s":"DA","x":62,"e":1.16,"l":1.06,"u":1.28},
    {"p":30,"s":"DA","x":63,"e":1.16,"l":1.06,"u":1.27},
    {"p":30,"s":"DA","x":64,"e":1.16,"l":1.06,"u":1.27},
    {"p":30,"s":"DA","x":65,"e":1.15,"l":1.06,"u":1.27},
    {"p":30,"s":"DA","x":66,"e":1.15,"l":1.06,"u":1.27},
    {"p":30,"s":"DA","x":67,"e":1.15,"l":1.06,"u":1.27},
    {"p":30,"s":"DA","x":68,"e":1.16,"l":1.06,"u":1.27},
    {"p":30,"s":"DA","x":69,"e":1.16,"l":1.06,"u":1.27},
    {"p":30,"s":"DA","x":70,"e":1.16,"l":1.06,"u":1.27},
    {"p":30,"s":"MU","x":40,"e":1.02,"l":0.99,"u":1.05},
    {"p":30,"s":"MU","x":45,"e":1.02,"l":0.99,"u":1.05},
    {"p":30,"s":"MU","x":50,"e":1.02,"l":0.99,"u":1.05},
    {"p":30,"s":"MU","x":55,"e":1.02,"l":0.99,"u":1.05},
    {"p":30,"s":"MU","x":60,"e":1.02,"l":0.99,"u":1.05},
    {"p":30,"s":"MU","x":65,"e":1.02,"l":0.98,"u":1.05},
    {"p":30,"s":"MU","x":70,"e":1.02,"l":0.98,"u":1.05},
    {"p":30,"s":"DU","x":40,"e":1.0,"l":0.98,"u":1.02},
    {"p":30,"s":"DU","x":45,"e":1.0,"l":0.98,"u":1.02},
    {"p":30,"s":"DU","x":50,"e":1.0,"l":0.98,"u":1.02},
    {"p":30,"s":"DU","x":55,"e":1.0,"l":0.98,"u":1.02},
    {"p":30,"s":"DU","x":60,"e":1.0,"l":0.98,"u":1.02},
    {"p":30,"s":"DU","x":65,"e":1.0,"l":0.98,"u":1.02},
    {"p":30,"s":"DU","x":70,"e":1.0,"l":0.98,"u":1.02}
  ]},
  "spacing": 23.5,
  "bounds": "flush",
  "resolve": {"scale": {"color": "independent"}, "legend": {"color": "independent"}},
  "vconcat": [
    {
      "title": "5-Year Risk Ratio",
      "width": 559, "height": 112,
      "transform": [{"filter": "datum.p == 5"}],
      "encoding": {
        "x": {"field": "x", "type": "quantitative", "scale": {"domain": [37.9, 96.6], "nice": false, "zero": false}, "axis": null},
        "color": {"field": "s", "type": "nominal", "scale": {"domain": ["MA", "MU", "DA", "DU"], "range": ["#FF0000", "#FFA500", "#0000FF", "#A020F0"]}, "legend": null}
      },
      "layer": [
        {"mark": {"type": "line", "strokeWidth": 1, "strokeDash": [4, 3], "clip": true}, "encoding": {"y": {"field": "l", "type": "quantitative", "title": null, "scale": {"domain": [-0.2, 5.2], "nice": false, "zero": false}}}},
        {"mark": {"type": "line", "strokeWidth": 1, "strokeDash": [4, 3], "clip": true}, "encoding": {"y": {"field": "u", "type": "quantitative", "title": null, "scale": {"domain": [-0.2, 5.2], "nice": false, "zero": false}}}},
        {"mark": {"type": "line", "strokeWidth": 3, "clip": true}, "encoding": {"y": {"field": "e", "type": "quantitative", "title": null, "scale": {"domain": [-0.2, 5.2], "nice": false, "zero": false}}}}
      ]
    },
    {
      "title": "10-Year Risk Ratio",
      "width": 559, "height": 112,
      "transform": [{"filter": "datum.p == 10"}],
      "encoding": {
        "x": {"field": "x", "type": "quantitative", "scale": {"domain": [37.9, 96.6], "nice": false, "zero": false}, "axis": null},
        "color": {"field": "s", "type": "nominal", "scale": {"domain": ["MA", "MU", "DA", "DU"], "range": ["#FF0000", "#FFA500", "#0000FF", "#A020F0"]}, "legend": null}
      },
      "layer": [
        {"mark": {"type": "line", "strokeWidth": 1, "strokeDash": [4, 3], "clip": true}, "encoding": {"y": {"field": "l", "type": "quantitative", "title": "Risk of Cancer", "scale": {"domain": [-0.2, 5.2], "nice": false, "zero": false}, "axis": {"titleAngle": 270, "titleAlign": "center", "titleBaseline": "alphabetic", "titleX": -24, "titleY": 150}}}},
        {"mark": {"type": "line", "strokeWidth": 1, "strokeDash": [4, 3], "clip": true}, "encoding": {"y": {"field": "u", "type": "quantitative", "title": "Risk of Cancer", "scale": {"domain": [-0.2, 5.2], "nice": false, "zero": false}, "axis": {"titleAngle": 270, "titleAlign": "center", "titleBaseline": "alphabetic", "titleX": -24, "titleY": 150}}}},
        {"mark": {"type": "line", "strokeWidth": 3, "clip": true}, "encoding": {"y": {"field": "e", "type": "quantitative", "title": "Risk of Cancer", "scale": {"domain": [-0.2, 5.2], "nice": false, "zero": false}, "axis": {"titleAngle": 270, "titleAlign": "center", "titleBaseline": "alphabetic", "titleX": -24, "titleY": 150}}}}
      ]
    },
    {
      "title": "20-Year Risk Ratio",
      "width": 559, "height": 112,
      "transform": [{"filter": "datum.p == 20"}],
      "encoding": {
        "x": {"field": "x", "type": "quantitative", "scale": {"domain": [37.9, 96.6], "nice": false, "zero": false}, "axis": null},
        "color": {"field": "s", "type": "nominal", "scale": {"domain": ["MA", "MU", "DA", "DU"], "range": ["#FF0000", "#FFA500", "#0000FF", "#A020F0"]}, "legend": null}
      },
      "layer": [
        {"mark": {"type": "line", "strokeWidth": 1, "strokeDash": [4, 3], "clip": true}, "encoding": {"y": {"field": "l", "type": "quantitative", "title": null, "scale": {"domain": [-0.2, 5.2], "nice": false, "zero": false}}}},
        {"mark": {"type": "line", "strokeWidth": 1, "strokeDash": [4, 3], "clip": true}, "encoding": {"y": {"field": "u", "type": "quantitative", "title": null, "scale": {"domain": [-0.2, 5.2], "nice": false, "zero": false}}}},
        {"mark": {"type": "line", "strokeWidth": 3, "clip": true}, "encoding": {"y": {"field": "e", "type": "quantitative", "title": null, "scale": {"domain": [-0.2, 5.2], "nice": false, "zero": false}}}}
      ]
    },
    {
      "title": "30-Year Risk Ratio",
      "width": 559, "height": 119,
      "transform": [{"filter": "datum.p == 30"}],
      "encoding": {
        "x": {"field": "x", "type": "quantitative", "title": "Age of Counseled Individual", "scale": {"domain": [37.9, 96.6], "nice": false, "zero": false}},
        "color": {"field": "s", "type": "nominal", "scale": {"domain": ["MA", "MU", "DA", "DU"], "range": ["#FF0000", "#FFA500", "#0000FF", "#A020F0"]},
          "legend": {"title": null, "orient": "none", "legendX": 335, "legendY": 9, "padding": 0, "symbolType": "M-2.5,0H2.5", "symbolSize": 100, "symbolStrokeWidth": 1.3, "symbolDash": [1, 0], "labelFontSize": 13.8, "labelColor": "#000", "labelOffset": 17.5, "labelLimit": 400, "rowPadding": 1.5,
            "labelExpr": "datum.label == 'MA' ? 'MZ Affected v. Unconditional' : datum.label == 'MU' ? 'MZ Unaffected v. Unconditional' : datum.label == 'DA' ? 'DZ Affected v. Unconditional' : 'DZ Unaffected v. Unconditional'"}}
      },
      "layer": [
        {"mark": {"type": "line", "strokeWidth": 1, "strokeDash": [4, 3], "clip": true}, "encoding": {"y": {"field": "l", "type": "quantitative", "title": null, "scale": {"domain": [-0.2, 5.2], "nice": false, "zero": false}}}},
        {"mark": {"type": "line", "strokeWidth": 1, "strokeDash": [4, 3], "clip": true}, "encoding": {"y": {"field": "u", "type": "quantitative", "title": null, "scale": {"domain": [-0.2, 5.2], "nice": false, "zero": false}}}},
        {"mark": {"type": "line", "strokeWidth": 3, "clip": true}, "encoding": {"y": {"field": "e", "type": "quantitative", "title": null, "scale": {"domain": [-0.2, 5.2], "nice": false, "zero": false}}}}
      ]
    }
  ],
  "config": {
    "font": "Liberation Sans",
    "view": {"stroke": "#222", "strokeWidth": 1},
    "title": {"fontSize": 12.5, "fontWeight": "bold", "color": "#000", "anchor": "middle", "frame": "group", "dx": 2, "offset": 3},
    "axis": {"grid": false, "domain": false, "tickColor": "#222", "tickSize": 6, "labelColor": "#000", "labelFontWeight": "bold", "labelFontSize": 12.5, "labelOverlap": false, "titleColor": "#000"},
    "axisY": {"tickCount": 6, "labelAngle": 270, "labelAlign": "center", "labelBaseline": "alphabetic", "labelPadding": 10.5, "titleFontSize": 19.5, "titleFontWeight": "bold"},
    "axisX": {"tickCount": 12, "labelPadding": 4, "titleFontSize": 14.5, "titleFontWeight": "normal", "titlePadding": 11}
  }
}
